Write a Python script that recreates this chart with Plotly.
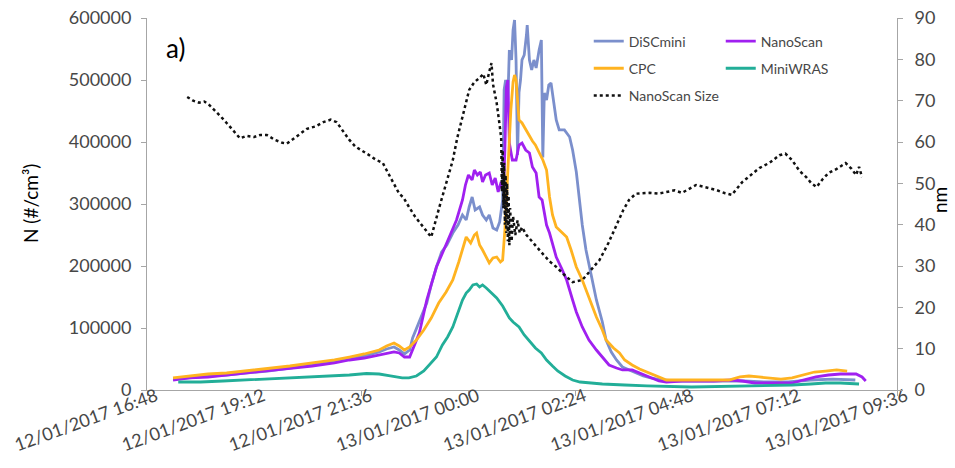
import plotly.graph_objects as go

# ---------------- data ----------------
tick_vals = ["2017-01-12 16:48", "2017-01-12 19:12", "2017-01-12 21:36", "2017-01-13 00:00",
             "2017-01-13 02:24", "2017-01-13 04:48", "2017-01-13 07:12", "2017-01-13 09:36"]
tick_text = ["12/01/2017 16:48", "12/01/2017 19:12", "12/01/2017 21:36", "13/01/2017 00:00",
             "13/01/2017 02:24", "13/01/2017 04:48", "13/01/2017 07:12", "13/01/2017 09:36"]

discmini_t = ["17:23", "17:45", "18:10", "18:35", "19:00", "19:30", "20:00", "20:30", "21:00", "21:20",
              "21:40", "22:00", "22:10", "22:20", "22:27", "22:34", "22:41", "22:45", "22:54", "23:04",
              "23:10", "23:17", "23:24", "23:31", "23:39", "23:46", "23:52", "23:57", "00:01", "00:05",
              "00:09", "00:15", "00:19", "00:24", "00:28", "00:33", "00:38", "00:42", "00:46", "00:48",
              "00:50", "00:53", "00:55", "00:58", "01:00", "01:02", "01:04", "01:06", "01:08", "01:10",
              "01:12", "01:15", "01:18", "01:19", "01:22", "01:25", "01:28", "01:31", "01:35", "01:38",
              "01:40", "01:42", "01:45", "01:48", "01:51", "01:55", "01:58", "02:02", "02:09", "02:16",
              "02:20", "02:25", "02:29", "02:33", "02:38", "02:45", "02:52", "03:00", "03:05", "03:12",
              "03:19", "03:27", "03:36", "03:45", "03:55", "04:05", "04:20", "04:40", "05:10", "05:40",
              "06:10", "06:40", "07:10", "07:40", "08:10", "08:40"]
discmini_v = [17700, 19400, 22600, 24200, 27400, 30600, 35500, 40300, 45200, 50000,
              54800, 61300, 66100, 69400, 64500, 58100, 64500, 83900, 109700, 140300,
              169400, 198400, 222600, 233900, 253200, 266100, 282300, 274200, 295200, 311300,
              290300, 295200, 282300, 274200, 282300, 261300, 258100, 271000, 306500, 483900,
              500000, 467800, 548400, 532300, 580700, 596800, 532300, 379000, 480000, 500000,
              532300, 540400, 572600, 588700, 532300, 516200, 532300, 519400, 548400, 564600,
              375000, 479000, 467800, 492000, 495200, 459700, 435500, 419400, 419400, 408100,
              387100, 351600, 306500, 266100, 225800, 185500, 145200, 109700, 80600, 61300,
              48400, 37100, 32300, 27400, 22600, 19400, 16100, 14500, 14500, 14500,
              14500, 12900, 12900, 16100, 17700, 16100]

nanoscan_t = ["17:23", "17:45", "18:10", "18:35", "19:00", "19:30", "20:00", "20:30", "21:00", "21:20",
              "21:40", "22:00", "22:10", "22:20", "22:27", "22:34", "22:41", "22:48", "22:54", "23:04",
              "23:12", "23:17", "23:24", "23:31", "23:38", "23:44", "23:52", "23:56", "00:00", "00:05",
              "00:08", "00:12", "00:16", "00:19", "00:23", "00:28", "00:32", "00:36", "00:40", "00:44",
              "00:47", "00:49", "00:51", "00:53", "00:55", "00:59", "01:04", "01:08", "01:12", "01:17",
              "01:22", "01:26", "01:31", "01:35", "01:39", "01:45", "01:49", "01:53", "01:58", "02:05",
              "02:12", "02:20", "02:25", "02:33", "02:42", "02:52", "03:00", "03:09", "03:19", "03:27",
              "03:40", "03:50", "04:03", "04:16", "04:26", "04:47", "05:10", "05:30", "05:54", "06:08",
              "06:25", "06:45", "07:05", "07:15", "07:30", "07:47", "08:04", "08:20", "08:41", "08:49",
              "08:54"]
nanoscan_v = [16100, 19400, 21000, 24200, 27400, 30600, 33900, 38700, 43600, 48400,
              51600, 56500, 59700, 61300, 59700, 53200, 53200, 72600, 91900, 145200,
              177400, 198400, 217800, 237100, 258100, 274200, 306500, 330700, 346800, 338700,
              354900, 346800, 351600, 335500, 346800, 350000, 330700, 342000, 319400, 335500,
              322600, 387100, 488700, 500000, 398400, 371000, 371000, 395200, 398400, 387100,
              382300, 359700, 350000, 311300, 306500, 266100, 253200, 233900, 214500, 196800,
              177400, 145200, 125800, 101600, 80600, 64500, 53200, 40300, 35500, 32300,
              32300, 27400, 21000, 14500, 12900, 14500, 14500, 14500, 16100, 14500,
              11300, 11300, 11300, 11300, 16100, 21000, 24200, 25800, 25800, 21000,
              14500]

cpc_t = ["17:23", "17:45", "18:10", "18:35", "19:00", "19:30", "20:00", "20:30", "21:00", "21:20",
         "21:40", "22:00", "22:10", "22:20", "22:27", "22:34", "22:41", "22:50", "23:00", "23:10",
         "23:20", "23:30", "23:39", "23:47", "23:52", "23:57", "00:03", "00:08", "00:11", "00:15",
         "00:19", "00:24", "00:28", "00:33", "00:38", "00:43", "00:46", "00:49", "00:51", "00:54",
         "00:57", "01:00", "01:02", "01:04", "01:06", "01:08", "01:12", "01:15", "01:18", "01:22",
         "01:26", "01:30", "01:35", "01:40", "01:45", "01:47", "01:49", "01:53", "01:58", "02:05",
         "02:12", "02:18", "02:25", "02:33", "02:38", "02:45", "02:52", "03:00", "03:05", "03:15",
         "03:23", "03:30", "03:40", "03:50", "04:03", "04:15", "04:26", "04:47", "05:10", "05:33",
         "05:50", "06:05", "06:17", "06:30", "06:45", "07:00", "07:15", "07:30", "07:45", "08:00",
         "08:15", "08:29"]
cpc_v = [19400, 22600, 25800, 27400, 30600, 33900, 38700, 43600, 48400, 53200,
         58100, 64500, 71000, 75800, 71000, 64500, 69400, 80600, 96800, 116100,
         140300, 158100, 177400, 206500, 225800, 246800, 237100, 250000, 253200, 233900,
         225800, 212900, 204900, 212900, 214500, 206500, 209700, 258100, 306500, 387100,
         451600, 496800, 508100, 500000, 459700, 435500, 430700, 424200, 419400, 411300,
         401600, 395200, 382300, 371000, 354900, 330700, 311300, 282300, 262900, 254800,
         246800, 225800, 198400, 177400, 161300, 140300, 117700, 96800, 80600, 67700,
         59700, 48400, 40300, 33900, 27400, 21000, 16100, 16100, 16100, 16100,
         16100, 21000, 22600, 21000, 19400, 17700, 19400, 24200, 29000, 30600,
         32300, 30600]

miniwras_t = ["17:30", "18:00", "18:30", "19:00", "19:30", "20:00", "20:30", "21:00", "21:20", "21:43",
              "22:00", "22:15", "22:31", "22:40", "22:50", "23:00", "23:10", "23:17", "23:25", "23:32",
              "23:39", "23:47", "23:52", "23:57", "00:01", "00:06", "00:11", "00:15", "00:19", "00:24",
              "00:30", "00:38", "00:46", "00:51", "00:55", "01:00", "01:08", "01:15", "01:22", "01:30",
              "01:38", "01:45", "01:53", "02:00", "02:10", "02:20", "02:30", "02:42", "03:00", "03:30",
              "04:00", "05:00", "06:00", "06:40", "07:15", "07:40", "08:00", "08:20", "08:45"]
miniwras_v = [12900, 12900, 14500, 16100, 17700, 19400, 21000, 22600, 24200, 26600,
              25800, 22600, 19400, 19400, 22600, 30600, 43600, 53200, 72600, 85500,
              101600, 129000, 145200, 156500, 161300, 169400, 171000, 166100, 169400, 164500,
              158100, 148400, 135500, 125800, 116100, 109700, 101600, 88700, 79000, 67700,
              59700, 48400, 38700, 30600, 22600, 16100, 12900, 11300, 9700, 8100,
              6500, 4800, 6500, 6500, 8100, 9700, 11300, 11300, 9700]

size_t = ["17:42", "17:50", "17:58", "18:05", "18:12", "18:20", "18:28", "18:35", "18:45", "18:53",
          "19:02", "19:12", "19:20", "19:29", "19:40", "19:50", "19:56", "20:05", "20:15", "20:23",
          "20:35", "20:45", "20:55", "21:03", "21:10", "21:20", "21:28", "21:36", "21:45", "21:55",
          "22:05", "22:12", "22:20", "22:27", "22:33", "22:37", "22:48", "23:01", "23:10", "23:21",
          "23:31", "23:39", "23:45", "23:52", "00:01", "00:08", "00:15", "00:20", "00:24", "00:28",
          "00:31", "00:33", "00:38", "00:42", "00:44", "00:45", "00:46", "00:47", "00:48", "00:49",
          "00:50", "00:51", "00:52", "00:53", "00:54", "00:55", "00:56", "00:58", "01:00", "01:03",
          "01:06", "01:09", "01:12", "01:18", "01:25", "01:35", "01:42", "01:50", "01:58", "02:08",
          "02:20", "02:33", "02:42", "02:56", "03:08", "03:19", "03:28", "03:36", "03:45", "04:03",
          "04:15", "04:26", "04:37", "04:47", "05:06", "05:20", "05:33", "05:45", "05:54", "06:08",
          "06:20", "06:31", "06:45", "06:58", "07:06", "07:15", "07:25", "07:34", "07:41", "07:48",
          "07:56", "08:04", "08:15", "08:27", "08:35", "08:41", "08:45", "08:49"]
size_v = [70.9, 70.0, 69.5, 69.8, 68.9, 67.5, 66.0, 64.6, 62.5, 60.9,
          61.5, 61.2, 61.7, 61.7, 60.5, 59.8, 59.6, 60.8, 62.0, 63.2,
          63.8, 64.8, 65.4, 64.8, 63.0, 60.5, 58.9, 58.1, 57.0, 55.8,
          54.9, 52.5, 50.0, 47.5, 46.5, 45.2, 42.0, 39.0, 37.0, 44.3,
          50.5, 55.6, 61.0, 66.0, 72.6, 74.5, 75.5, 76.5, 73.8, 77.0,
          79.1, 74.0, 69.4, 64.0, 61.0, 48.0, 58.0, 44.0, 55.0, 40.0,
          52.0, 38.0, 50.0, 36.0, 47.0, 35.0, 44.0, 36.0, 42.0, 37.5,
          41.0, 38.0, 39.4, 37.5, 36.0, 33.9, 32.5, 31.0, 29.8, 28.0,
          26.1, 26.6, 28.5, 31.4, 35.5, 40.0, 43.5, 46.0, 47.5, 47.7,
          47.5, 47.9, 48.3, 47.7, 49.6, 49.0, 48.4, 47.6, 47.2, 50.3,
          52.0, 53.7, 55.0, 56.8, 57.2, 55.6, 53.0, 51.5, 50.0, 49.1,
          51.0, 52.5, 53.5, 54.9, 53.5, 52.0, 54.0, 51.5]


def to_dt(times):
    out = []
    for hhmm in times:
        day = "2017-01-12" if int(hhmm[:2]) >= 12 else "2017-01-13"
        out.append(f"{day} {hhmm}")
    return out


FONT = "Lato"
TXT = "#474747"
AX = "#A6A6A6"
LW = 2.8

fig = go.Figure()
fig.add_trace(go.Scatter(x=to_dt(discmini_t), y=discmini_v, name="DiSCmini", mode="lines",
                         line=dict(color="#7B8FCC", width=LW), legend="legend", legendgroup="a"))
fig.add_trace(go.Scatter(x=to_dt(nanoscan_t), y=nanoscan_v, name="NanoScan", mode="lines",
                         line=dict(color="#A020F0", width=LW), legend="legend2", legendgroup="b"))
fig.add_trace(go.Scatter(x=to_dt(cpc_t), y=cpc_v, name="CPC", mode="lines",
                         line=dict(color="#FFB320", width=LW), legend="legend", legendgroup="c"))
fig.add_trace(go.Scatter(x=to_dt(miniwras_t), y=miniwras_v, name="MiniWRAS", mode="lines",
                         line=dict(color="#22AE98", width=LW), legend="legend2", legendgroup="d"))
fig.add_trace(go.Scatter(x=to_dt(size_t), y=size_v, name="NanoScan Size", mode="lines",
                         line=dict(color="#111111", width=2.5, dash="dot"), yaxis="y2",
                         legend="legend", legendgroup="e"))

common = dict(showgrid=False, zeroline=False, showline=True, linecolor=AX, linewidth=1,
              ticks="outside", ticklen=5, tickcolor=AX, automargin=False)
fig.update_layout(
    width=955, height=468,
    margin=dict(l=147, r=58, t=18, b=78, autoexpand=False),
    paper_bgcolor="white", plot_bgcolor="white",
    showlegend=True,
    xaxis=dict(type="date", range=["2017-01-12 16:48", "2017-01-13 09:36"],
               tickvals=tick_vals, ticktext=tick_text, tickangle=-20,
               ticklabelstandoff=-17, ticklabelshift=9,
               tickfont=dict(family=FONT, size=18, color=TXT), **common),
    yaxis=dict(range=[0, 600000], dtick=100000, tickformat="d", ticklabelstandoff=6,
               tickfont=dict(family=FONT, size=18, color=TXT), **common),
    yaxis2=dict(range=[0, 90], dtick=10, overlaying="y", side="right", ticklabelstandoff=8,
                tickfont=dict(family=FONT, size=18, color=TXT), **common),
    legend=dict(x=0.589, y=0.98, xanchor="left", yanchor="top", bgcolor="rgba(0,0,0,0)",
                font=dict(family=FONT, size=14, color=TXT), traceorder="grouped", tracegroupgap=6),
    legend2=dict(x=0.765, y=0.98, xanchor="left", yanchor="top", bgcolor="rgba(0,0,0,0)",
                 font=dict(family=FONT, size=14, color=TXT), traceorder="grouped", tracegroupgap=6),
    annotations=[
        dict(text="a)", x=0.022, y=0.92, xref="paper", yref="paper", xanchor="left", yanchor="middle",
             showarrow=False, font=dict(family=FONT, size=26, color="#000000")),
        dict(text="N (#/cm³)", x=-0.156, y=0.5, xref="paper", yref="paper", textangle=-90,
             xanchor="center", yanchor="middle",
             showarrow=False, font=dict(family=FONT, size=19, color="#000000")),
        dict(text="nm", x=1.057, y=0.51, xref="paper", yref="paper", textangle=-90,
             xanchor="center", yanchor="middle",
             showarrow=False, font=dict(family=FONT, size=19, color="#000000")),
    ],
)

fig.write_html("out.html", config={"displayModeBar": False},
               post_script="document.body.style.margin='0';document.body.style.overflow='hidden';")
